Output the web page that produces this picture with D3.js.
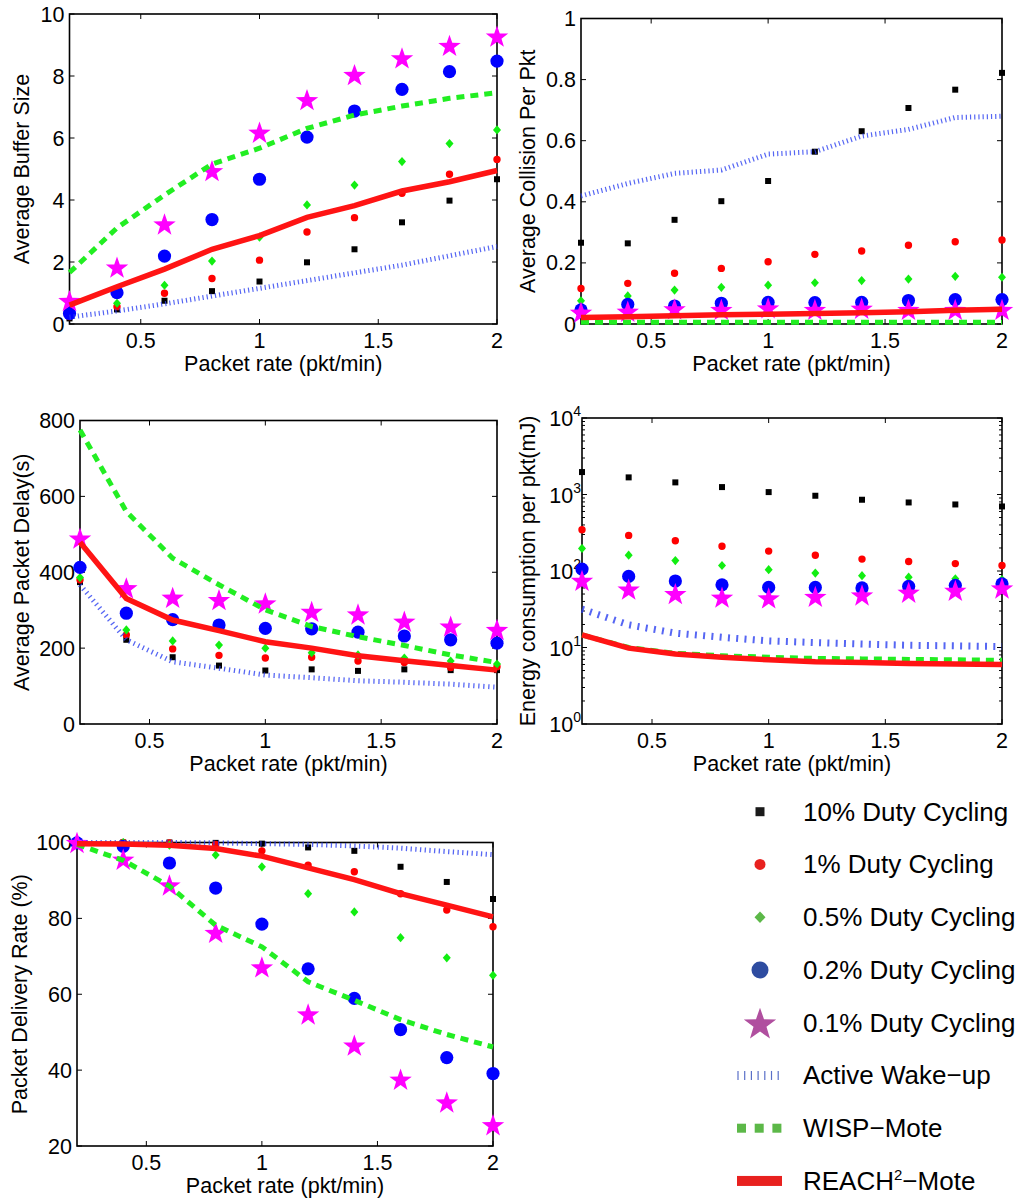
<!DOCTYPE html>
<html><head><meta charset="utf-8">
<script src="https://cdn.jsdelivr.net/npm/d3@7"></script>
<style>body{margin:0;background:#fff}svg{display:block}text{font-family:"Liberation Sans",Arial,Helvetica,sans-serif;fill:#000}</style>
</head><body>
<script>
// ---------- DATA ----------
const xs = [0.2,0.4,0.6,0.8,1.0,1.2,1.4,1.6,1.8,2.0];
const xTicks = [0.5,1,1.5,2];

// Average Buffer Size
const bufDC10  = [0.18,0.47,0.75,1.06,1.37,1.99,2.41,3.28,3.98,4.67];
const bufDC1   = [0.24,0.56,0.99,1.47,2.06,2.97,3.43,4.22,4.83,5.31];
const bufDC05  = [0.30,0.67,1.25,2.03,2.80,3.84,4.48,5.24,5.82,6.26];
const bufDC02  = [0.34,1.01,2.19,3.37,4.67,6.03,6.87,7.57,8.14,8.48];
const bufDC01  = [0.72,1.80,3.19,4.91,6.15,7.20,8.01,8.55,8.95,9.25];
const bufActive= [0.22,0.42,0.65,0.90,1.15,1.40,1.65,1.90,2.20,2.50];
const bufWisp  = [1.66,3.10,4.16,5.16,5.67,6.31,6.74,7.03,7.28,7.46];
const bufReach = [0.61,1.20,1.77,2.41,2.85,3.44,3.82,4.29,4.59,4.95];
const bufTicks = [0,2,4,6,8,10];

// Average Collision Per Pkt
const colDC10  = [0.266,0.264,0.341,0.402,0.468,0.564,0.631,0.707,0.767,0.822];
const colDC1   = [0.116,0.133,0.166,0.182,0.204,0.228,0.239,0.258,0.269,0.275];
const colDC05  = [0.076,0.092,0.111,0.120,0.127,0.135,0.142,0.147,0.156,0.153];
const colDC02  = [0.046,0.064,0.059,0.068,0.071,0.070,0.071,0.077,0.080,0.080];
const colDC01  = [0.035,0.038,0.046,0.044,0.049,0.044,0.048,0.044,0.044,0.044];
const colActive= [0.419,0.460,0.493,0.504,0.556,0.564,0.615,0.637,0.676,0.680];
const colWisp  = [0.006,0.006,0.006,0.006,0.006,0.006,0.006,0.006,0.006,0.006];
const colReach = [0.021,0.024,0.027,0.030,0.032,0.034,0.037,0.040,0.045,0.048];
const colTicks = [0,0.2,0.4,0.6,0.8,1];

// Average Packet Delay(s)
const delDC10  = [374,222,176,154,141,144,140,144,142,142];
const delDC1   = [380,235,198,181,174,176,166,162,149,151];
const delDC05  = [386,248,219,208,200,188,182,174,166,158];
const delDC02  = [413,292,275,261,252,251,242,232,222,213];
const delDC01  = [487,356,331,325,316,294,287,268,255,246];
const delActive= [367,222,164,147,129,122,114,110,105,97];
const delWisp  = [775,560,437,367,301,257,230,207,182,162];
const delReach = [479,331,274,246,217,200,180,167,154,142];
const delTicks = [0,200,400,600,800];

// Energy consumption per pkt(mJ)
const engDC10  = [1965,1674,1440,1250,1075,963,854,787,741,698];
const engDC1   = [346,292,248,211,182,161,143,133,125,118];
const engDC05  = [197,161,137,118,104,94,87,83,79,77];
const engDC02  = [106,85,74,66,61,61,60,63,65,68];
const engDC01  = [73,56,49,44,43,45,47,51,54,58];
const engActive= [31.7,19.8,15.4,13.6,12.2,11.6,11.1,10.7,10.5,10.3];
const engWisp  = [14.6,10.0,8.4,7.8,7.45,7.2,7.1,6.98,6.9,6.8];
const engReach = [14.6,9.8,8.2,7.45,6.9,6.5,6.35,6.2,6.1,6.0];
const engTicks = [1,10,100,1000,10000];
const engExps  = ["0","1","2","3","4"];

// Packet Delivery Rate (%)
const pdrDC10  = [100,100,100,99.9,99.7,98.7,97.8,93.6,89.6,85.1];
const pdrDC1   = [100,100,99.9,99.5,97.8,94.0,92.3,86.5,82.2,77.8];
const pdrDC05  = [100,100,99.3,96.7,93.6,86.5,81.7,74.9,69.6,65.0];
const pdrDC02  = [99.9,99.0,94.6,88.0,78.5,66.7,58.9,50.7,43.3,39.1];
const pdrDC01  = [99.7,95.3,88.5,76.0,66.9,54.5,46.3,37.3,31.3,25.3];
const pdrActive= [100,100,100,99.9,99.7,99.5,99.1,98.5,97.6,96.8];
const pdrWisp  = [99.5,95.3,88.5,78.2,72.5,63.3,58.4,53.3,49.4,46.1];
const pdrReach = [99.7,99.6,99.3,98.4,96.4,93.3,90.2,86.5,83.5,80.4];
const pdrTicks = [20,40,60,80,100];

const legendLabels = ["10% Duty Cycling","1% Duty Cycling","0.5% Duty Cycling","0.2% Duty Cycling","0.1% Duty Cycling","Active Wake\u2212up","WISP\u2212Mote","REACH"];

// ---------- DRAW ----------
const FS = 21.5;
const svg = d3.select("body").append("svg").attr("width",1021).attr("height",1198);
svg.append("rect").attr("width",1021).attr("height",1198).attr("fill","#fff");

function starPath(R){
  const r = R*0.4; let p = [];
  for(let i=0;i<10;i++){const a=-Math.PI/2+i*Math.PI/5;const rr=i%2?r:R;p.push([rr*Math.cos(a),rr*Math.sin(a)]);}
  return "M"+p.map(q=>q[0].toFixed(2)+","+q[1].toFixed(2)).join("L")+"Z";
}
function diamondPath(w,h){return `M0,${-h}L${w},0L0,${h}L${-w},0Z`;}
function squarePath(s){const h=s/2;return `M${-h},${-h}H${h}V${h}H${-h}Z`;}

const markerStyles = [
  {path:squarePath(6), fill:"#000"},
  {path:d3.symbol(d3.symbolCircle, Math.PI*3.7*3.7)(), fill:"#ff0000"},
  {path:diamondPath(4,4.6), fill:"#11ee11"},
  {path:d3.symbol(d3.symbolCircle, Math.PI*6.6*6.6)(), fill:"#0000ff"},
  {path:starPath(11.8), fill:"#ff00ff"}
];

function panel(cfg){
  const [L,T,R,B] = cfg.box;
  const g = svg.append("g");
  const x = d3.scaleLinear().domain([0.2,2]).range([L,R]);
  const y = cfg.log ? d3.scaleLog().domain(cfg.domain).range([B,T]) : d3.scaleLinear().domain(cfg.domain).range([B,T]);
  const tl = 5;
  const tk = g.append("g").attr("stroke","#000").attr("stroke-width",1);
  xTicks.forEach(v=>{
    tk.append("line").attr("x1",x(v)).attr("x2",x(v)).attr("y1",B).attr("y2",B-tl);
    tk.append("line").attr("x1",x(v)).attr("x2",x(v)).attr("y1",T).attr("y2",T+tl);
  });
  cfg.ticks.forEach(v=>{
    tk.append("line").attr("x1",L).attr("x2",L+tl).attr("y1",y(v)).attr("y2",y(v));
    tk.append("line").attr("x1",R).attr("x2",R-tl).attr("y1",y(v)).attr("y2",y(v));
  });
  if(cfg.log){
    for(let e=0;e<4;e++) for(let m=2;m<10;m++){
      const v=m*Math.pow(10,e);
      tk.append("line").attr("x1",L).attr("x2",L+3).attr("y1",y(v)).attr("y2",y(v));
      tk.append("line").attr("x1",R).attr("x2",R-3).attr("y1",y(v)).attr("y2",y(v));
    }
  }
  g.append("rect").attr("x",L).attr("y",T).attr("width",R-L).attr("height",B-T)
    .attr("fill","none").attr("stroke","#000").attr("stroke-width",1.6);
  xTicks.forEach(v=>{
    g.append("text").attr("x",x(v)).attr("y",B+24).attr("text-anchor","middle")
      .attr("font-size",FS).text(d3.format("~g")(v));
  });
  cfg.ticks.forEach((v,i)=>{
    if(cfg.log){
      const t=g.append("text").attr("x",L-1).attr("y",y(v)+8).attr("text-anchor","end").attr("font-size",FS);
      t.append("tspan").text("10");
      t.append("tspan").attr("font-size",14).attr("dy",-10).text(cfg.exps[i]);
    } else {
      g.append("text").attr("x",L-5).attr("y",y(v)+7.5).attr("text-anchor","end")
        .attr("font-size",FS).text(d3.format("~g")(v));
    }
  });
  g.append("text").attr("x",(L+R)/2).attr("y",B+47).attr("text-anchor","middle")
    .attr("font-size",FS).text("Packet rate (pkt/min)");
  g.append("text").attr("transform",`translate(${cfg.tx},${(T+B)/2}) rotate(-90)`)
    .attr("text-anchor","middle").attr("font-size",FS).text(cfg.ytitle);
  cfg.marks.forEach((arr,k)=>{
    const st = markerStyles[k];
    g.append("g").selectAll("path").data(arr).join("path")
      .attr("d",st.path).attr("fill",st.fill)
      .attr("transform",(d,i)=>`translate(${x(xs[i])},${y(d)})`);
  });
  const line = d3.line().x((d,i)=>x(xs[i])).y(d=>y(d));
  g.append("path").attr("d",line(cfg.active)).attr("fill","none").attr("stroke","#2c40f0")
    .attr("stroke-width",cfg.aw||5).attr("stroke-dasharray",cfg.ad||"1.2,3").attr("stroke-opacity",0.8);
  g.append("path").attr("d",line(cfg.wisp)).attr("fill","none").attr("stroke","#22ee22")
    .attr("stroke-width",5).attr("stroke-dasharray","8,6");
  g.append("path").attr("d",line(cfg.reach)).attr("fill","none").attr("stroke","#ff1414")
    .attr("stroke-width",5.5);
}

panel({box:[69.5,14,497,324], domain:[0,10], ticks:bufTicks, ytitle:"Average Buffer Size", tx:29,
  marks:[bufDC10,bufDC1,bufDC05,bufDC02,bufDC01], active:bufActive, wisp:bufWisp, reach:bufReach});
panel({box:[581,18.5,1002,324], domain:[0,1], ticks:colTicks, ytitle:"Average Collision Per Pkt", tx:535,
  marks:[colDC10,colDC1,colDC05,colDC02,colDC01], active:colActive, wisp:colWisp, reach:colReach});
panel({box:[80,420.5,497,724], domain:[0,800], ticks:delTicks, ytitle:"Average Packet Delay(s)", tx:29, ad:"1.3,3.7",
  marks:[delDC10,delDC1,delDC05,delDC02,delDC01], active:delActive, wisp:delWisp, reach:delReach});
panel({box:[582,418,1002,724], log:true, domain:[1,10000], ticks:engTicks, exps:engExps, ytitle:"Energy consumption per pkt(mJ)", tx:535, ad:"2,6.3", aw:7,
  marks:[engDC10,engDC1,engDC05,engDC02,engDC01], active:engActive, wisp:engWisp, reach:engReach});
panel({box:[77,842.5,493,1146], domain:[20,100], ticks:pdrTicks, ytitle:"Packet Delivery Rate (%)", tx:27, ad:"1.3,3.4",
  marks:[pdrDC10,pdrDC1,pdrDC05,pdrDC02,pdrDC01], active:pdrActive, wisp:pdrWisp, reach:pdrReach});

// ---------- LEGEND ----------
const lg = svg.append("g");
const rowY = d3.range(8).map(i=>811.7 + i*52.75);
const mx = 760;
lg.append("path").attr("d",squarePath(9)).attr("fill","#1a1a1a").attr("transform",`translate(${mx},${rowY[0]})`);
lg.append("circle").attr("cx",mx).attr("cy",rowY[1]).attr("r",5.5).attr("fill","#e8211f");
lg.append("path").attr("d",diamondPath(5.5,5.8)).attr("fill","#5cb848").attr("transform",`translate(${mx},${rowY[2]})`);
lg.append("circle").attr("cx",mx).attr("cy",rowY[3]).attr("r",8.5).attr("fill","#2e4ca0");
lg.append("path").attr("d",starPath(17)).attr("fill","#b04f9f").attr("transform",`translate(${mx},${rowY[4]+2})`);
d3.range(7).forEach(i=>{
  lg.append("line").attr("x1",738+i*6.7).attr("x2",738+i*6.7).attr("y1",rowY[5]-4.5).attr("y2",rowY[5]+4.5)
    .attr("stroke","#5a70c8").attr("stroke-width",1.2);
});
d3.range(3).forEach(i=>{
  lg.append("rect").attr("x",737).attr("y",rowY[6]-4.5).attr("width",9).attr("height",9).attr("fill","#5cb848")
    .attr("transform",`translate(${i*17.7},0)`);
});
lg.append("rect").attr("x",737).attr("y",rowY[7]-5).attr("width",45).attr("height",10).attr("fill","#e8211f");
legendLabels.forEach((t,i)=>{
  const tx = lg.append("text").attr("x",803).attr("y",rowY[i]+9).attr("font-size",26).attr("fill","#222");
  if(i===7){
    tx.append("tspan").text("REACH");
    tx.append("tspan").attr("font-size",15).attr("dy",-10).text("2");
    tx.append("tspan").attr("dy",10).text("\u2212Mote");
  } else tx.text(t);
});
</script>
</body></html>
